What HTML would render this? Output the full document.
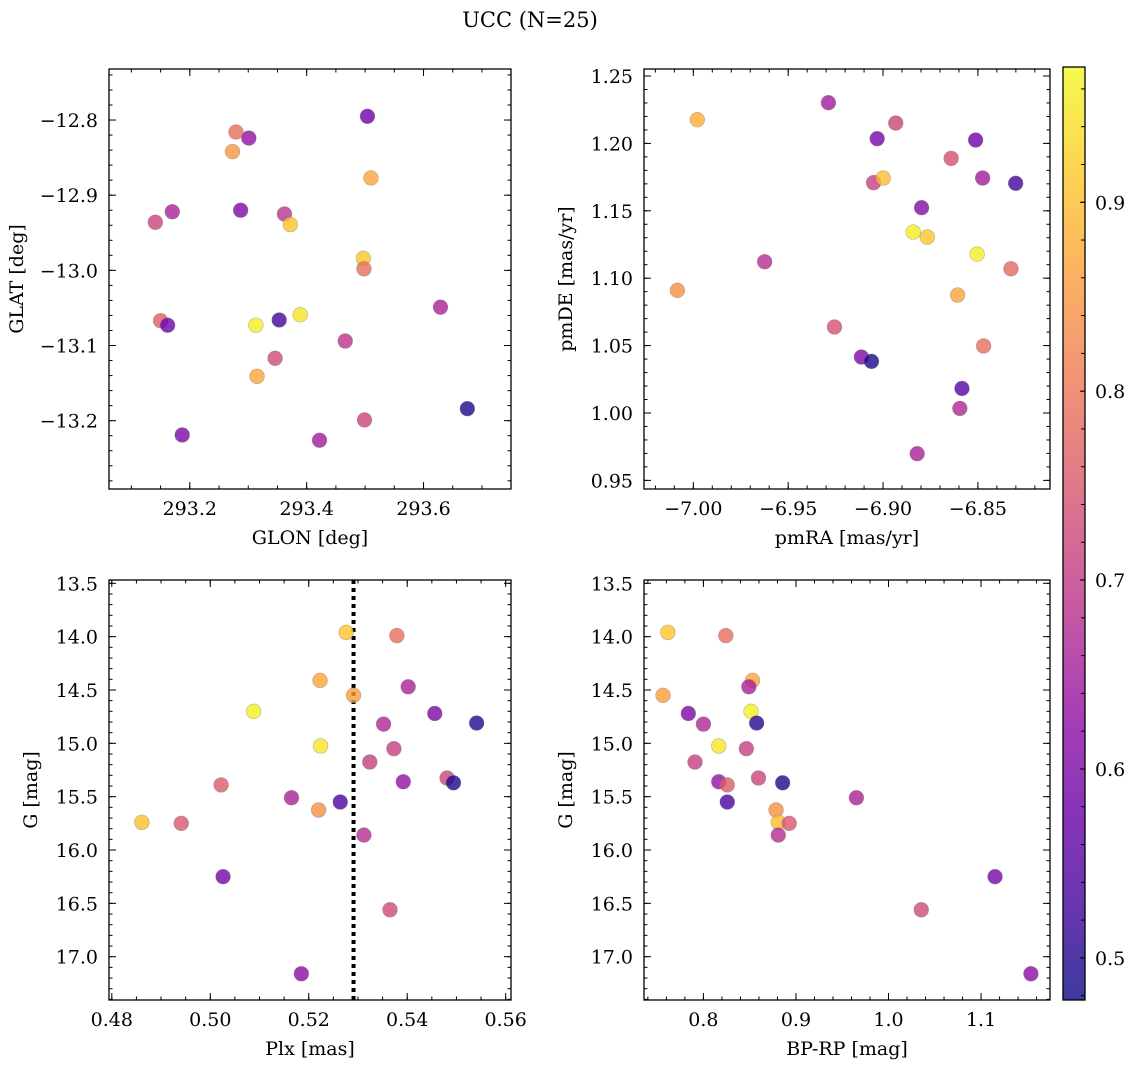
<!DOCTYPE html>
<html><head><meta charset="utf-8">
<style>
html,body{margin:0;padding:0;background:#fff;}
svg{display:block;font-family:"DejaVu Serif","Liberation Serif",serif;}
</style></head>
<body>
<svg id="fig" width="1136" height="1067" viewBox="0 0 1136 1067" xmlns="http://www.w3.org/2000/svg">
<rect width="1136" height="1067" fill="#fff"/>
<text x="530" y="27" font-size="21" text-anchor="middle">UCC (N=25)</text>
</svg>
<script>
// ---- Data ----
const glon = [293.504,293.279,293.301,293.273,293.510,293.170,293.141,293.287,293.362,293.372,293.497,293.498,293.629,293.150,293.162,293.313,293.353,293.389,293.466,293.346,293.315,293.675,293.499,293.187,293.422];
const glat = [-12.795,-12.816,-12.824,-12.842,-12.877,-12.922,-12.936,-12.920,-12.925,-12.939,-12.984,-12.998,-13.049,-13.067,-13.073,-13.073,-13.066,-13.059,-13.094,-13.117,-13.141,-13.184,-13.199,-13.219,-13.226];
const cGal = [0.58,0.79,0.63,0.85,0.87,0.66,0.72,0.60,0.69,0.91,0.91,0.79,0.66,0.76,0.58,0.96,0.53,0.95,0.69,0.73,0.87,0.49,0.72,0.60,0.65];
const pmra = [-6.9288,-6.9979,-6.8933,-6.9031,-6.8512,-6.8641,-6.8475,-6.8301,-6.9050,-6.8999,-6.8797,-6.8841,-6.8767,-6.8504,-6.9624,-6.8326,-7.0084,-6.8607,-6.9256,-6.8470,-6.9114,-6.9061,-6.8584,-6.8595,-6.8820];
const pmde = [1.2302,1.2176,1.2151,1.2035,1.2025,1.1889,1.1743,1.1704,1.1709,1.1743,1.1523,1.1342,1.1305,1.1179,1.1122,1.1070,1.0910,1.0875,1.0638,1.0497,1.0415,1.0383,1.0182,1.0034,0.9698];
const cPm = [0.65,0.88,0.72,0.59,0.58,0.74,0.65,0.53,0.71,0.90,0.61,0.96,0.91,0.96,0.68,0.78,0.84,0.87,0.74,0.79,0.60,0.49,0.55,0.67,0.66];
const plx = [0.5276,0.5379,0.5223,0.5402,0.5291,0.5456,0.5088,0.5541,0.5352,0.5224,0.5373,0.5324,0.5392,0.5022,0.5481,0.5494,0.5264,0.5165,0.5220,0.4861,0.4941,0.5312,0.5026,0.5365,0.5185];
const gmag = [13.96,13.99,14.41,14.47,14.55,14.72,14.70,14.81,14.82,15.025,15.05,15.175,15.36,15.39,15.325,15.37,15.55,15.51,15.625,15.74,15.75,15.86,16.25,16.56,17.16];
const bprp = [0.7616,0.8242,0.8531,0.8491,0.7564,0.7837,0.8515,0.8575,0.8000,0.8166,0.8464,0.7909,0.8166,0.8258,0.8595,0.8856,0.8258,0.9653,0.8785,0.8809,0.8927,0.8809,1.1151,1.0354,1.1539];
const cPhot = [0.91,0.79,0.87,0.66,0.86,0.60,0.96,0.50,0.67,0.95,0.71,0.71,0.63,0.76,0.72,0.49,0.54,0.66,0.84,0.90,0.75,0.68,0.59,0.73,0.62];
const plxMedian = 0.5291;
const cbTicks = [0.5,0.6,0.7,0.8,0.9];
const cRange = [0.4777,0.9716];

const NS="http://www.w3.org/2000/svg";
const svg=document.getElementById('fig');
const FS=19;
function mk(tag,attrs,parent){const e=document.createElementNS(NS,tag);for(const k in attrs)e.setAttribute(k,attrs[k]);(parent||svg).appendChild(e);return e;}
const stops=[[13,8,135],[65,4,157],[106,0,168],[143,13,164],[177,42,144],[204,71,120],[225,100,98],[242,132,75],[252,166,54],[252,206,37],[240,249,33]];
function plasma(t){t=Math.max(0,Math.min(1,t));const f=t*10,i=Math.min(9,Math.floor(f)),u=f-i;const a=stops[i],b=stops[i+1];
 return 'rgb('+[0,1,2].map(k=>Math.round(a[k]+(b[k]-a[k])*u)).join(',')+')';}
function cnorm(c){return (c-cRange[0])/(cRange[1]-cRange[0]);}
function fmt(v,d){return (v<0?'\u2212':'')+Math.abs(v).toFixed(d);}

function panel(o){
 const g=mk('g',{});
 
 
 const sx=v=>o.L+(v-o.xd[0])/(o.xd[1]-o.xd[0])*(o.R-o.L);
 const sy=v=>o.yinv? o.T+(v-o.yd[0])/(o.yd[1]-o.yd[0])*(o.B-o.T) : o.B-(v-o.yd[0])/(o.yd[1]-o.yd[0])*(o.B-o.T);
 const eps=1e-9;
 function ticksX(step,len,labels){
  const s=Math.ceil((o.xd[0]-eps)/step);
  for(let k=s;k*step<=o.xd[1]+eps;k++){const v=k*step,x=sx(v);
   mk('line',{x1:x,y1:o.B,x2:x,y2:o.B-len,stroke:'#000','stroke-width':1},g);
   mk('line',{x1:x,y1:o.T,x2:x,y2:o.T+len,stroke:'#000','stroke-width':1},g);
   if(labels){const t=mk('text',{x:x,y:o.B+26,'font-size':FS,'text-anchor':'middle'},g);t.textContent=fmt(v,o.xdec);
    }
  }}
 function ticksY(step,len,labels){
  const lo=Math.min(o.yd[0],o.yd[1]),hi=Math.max(o.yd[0],o.yd[1]);
  const s=Math.ceil((lo-eps)/step);
  for(let k=s;k*step<=hi+eps;k++){const v=k*step,y=sy(v);
   mk('line',{x1:o.L,y1:y,x2:o.L+len,y2:y,stroke:'#000','stroke-width':1},g);
   mk('line',{x1:o.R,y1:y,x2:o.R-len,y2:y,stroke:'#000','stroke-width':1},g);
   if(labels){const t=mk('text',{x:o.L-11,y:y+7,'font-size':FS,'text-anchor':'end'},g);t.textContent=fmt(v,o.ydec);
    }
  }}
 ticksX(o.xminor,3.5,false);ticksX(o.xmajor,7,true);
 ticksY(o.yminor,3.5,false);ticksY(o.ymajor,7,true);
 if(o.vline!==undefined){const x=sx(o.vline);
  const l=mk('line',{x1:x,y1:o.T,x2:x,y2:o.B,stroke:'#000','stroke-width':4,'stroke-dasharray':'4,4'},g);
  }
 for(let i=0;i<o.xs.length;i++){
  const c=mk('circle',{cx:sx(o.xs[i]),cy:sy(o.ys[i]),r:7.4,fill:plasma(cnorm(o.cs[i])),'fill-opacity':0.8,stroke:'#777','stroke-opacity':0.5,'stroke-width':0.6},g);
  
  
 }
 const fr=mk('rect',{x:o.L,y:o.T,width:o.R-o.L,height:o.B-o.T,fill:'none',stroke:'#000','stroke-width':1.3},g);
 
 const xl=mk('text',{x:(o.L+o.R)/2,y:o.B+55,'font-size':FS,'text-anchor':'middle'},g);xl.textContent=o.xlabel;
 
 const yx=o.L-90+(o.ylx||0),yy=(o.T+o.B)/2;
 const yl=mk('text',{x:yx,y:yy,'font-size':FS,'text-anchor':'middle',transform:'rotate(-90 '+yx+' '+yy+')'},g);yl.textContent=o.ylabel;
 
}
panel({name:'galactic-panel',L:109,R:511,T:69,B:489,xd:[293.0617,293.7497],yd:[-13.2909,-12.7321],xmajor:0.2,xminor:0.05,ymajor:0.1,yminor:0.02,xdec:1,ydec:1,
 xs:glon,ys:glat,cs:cGal,xlabel:'GLON [deg]',ylabel:'GLAT [deg]',ylx:4});
panel({name:'proper-motion-panel',L:644,R:1050,T:69,B:489,xd:[-7.026,-6.812],yd:[0.9436,1.2552],xmajor:0.05,xminor:0.01,ymajor:0.05,yminor:0.01,xdec:2,ydec:2,
 xs:pmra,ys:pmde,cs:cPm,xlabel:'pmRA [mas/yr]',ylabel:'pmDE [mas/yr]',ylx:18});
panel({name:'parallax-panel',L:109,R:511,T:580,B:1000,xd:[0.47943,0.56108],yd:[13.469,17.406],yinv:true,xmajor:0.02,xminor:0.005,ymajor:0.5,yminor:0.1,xdec:2,ydec:1,
 xs:plx,ys:gmag,cs:cPhot,xlabel:'Plx [mas]',ylabel:'G [mag]',ylx:18,vline:plxMedian});
panel({name:'cmd-panel',L:644,R:1050,T:580,B:1000,xd:[0.7358,1.1745],yd:[13.469,17.406],yinv:true,xmajor:0.1,xminor:0.02,ymajor:0.5,yminor:0.1,xdec:1,ydec:1,
 xs:bprp,ys:gmag,cs:cPhot,xlabel:'BP-RP [mag]',ylabel:'G [mag]',ylx:18});

// colorbar
const cb=mk('g',{});


const CT=67,CB=1000,CL=1063,CR=1085;
const defs=mk('defs',{},cb);
const grad=mk('linearGradient',{id:'cbg',x1:0,y1:1,x2:0,y2:0},defs);
for(let i=0;i<=20;i++){mk('stop',{offset:(i/20),'stop-color':plasma(i/20),'stop-opacity':0.8},grad);}
mk('rect',{x:CL,y:CT,width:CR-CL,height:CB-CT,fill:'url(#cbg)'},cb);
const cy=v=>CB-(v-cRange[0])/(cRange[1]-cRange[0])*(CB-CT);
for(let k=Math.ceil(cRange[0]/0.02);k*0.02<=cRange[1];k++){const y=cy(k*0.02);mk('line',{x1:CR,y1:y,x2:CR-4,y2:y,stroke:'#000','stroke-width':1},cb);}
cbTicks.forEach(v=>{const y=cy(v);mk('line',{x1:CR,y1:y,x2:CR-5,y2:y,stroke:'#000','stroke-width':1},cb);
 const t=mk('text',{x:CR+10,y:y+7,'font-size':FS},cb);t.textContent=v.toFixed(1);
 });
mk('rect',{x:CL,y:CT,width:CR-CL,height:CB-CT,fill:'none',stroke:'#000','stroke-width':1.3},cb);
</script>
</body></html>
